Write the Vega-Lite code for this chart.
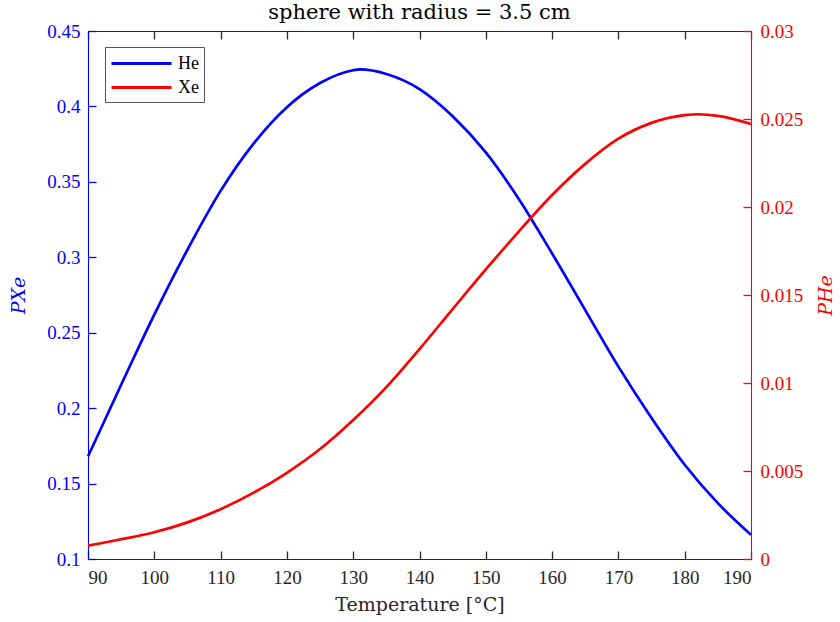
{
  "$schema": "https://vega.github.io/schema/vega-lite/v6.json",
  "autosize": {"type": "none"},
  "width": 663,
  "height": 528,
  "padding": {"left": 88, "top": 31, "right": 89, "bottom": 63},
  "background": "white",
  "title": {"text": "sphere with radius = 3.5 cm", "font": "DejaVu Serif", "fontSize": 21, "fontWeight": "normal", "color": "#000000", "offset": -1},
  "config": {
    "view": {"stroke": null},
    "axis": {"grid": false, "labelFont": "Liberation Serif", "labelFontSize": 19, "titleFont": "DejaVu Serif", "titleFontSize": 19, "titleFontWeight": "normal", "tickSize": -8, "tickWidth": 1.3, "domainWidth": 1.1}
  },
  "data": {"values": [
    {"T": 90, "s": "He", "v": 0.168},
    {"T": 95, "s": "He", "v": 0.2155},
    {"T": 100, "s": "He", "v": 0.262},
    {"T": 105, "s": "He", "v": 0.305},
    {"T": 110, "s": "He", "v": 0.344},
    {"T": 115, "s": "He", "v": 0.3755},
    {"T": 120, "s": "He", "v": 0.3995},
    {"T": 125, "s": "He", "v": 0.4155},
    {"T": 130, "s": "He", "v": 0.4240},
    {"T": 131, "s": "He", "v": 0.4245},
    {"T": 135, "s": "He", "v": 0.4215},
    {"T": 140, "s": "He", "v": 0.4115},
    {"T": 145, "s": "He", "v": 0.3935},
    {"T": 150, "s": "He", "v": 0.3695},
    {"T": 155, "s": "He", "v": 0.3385},
    {"T": 160, "s": "He", "v": 0.3025},
    {"T": 165, "s": "He", "v": 0.265},
    {"T": 170, "s": "He", "v": 0.2275},
    {"T": 175, "s": "He", "v": 0.1935},
    {"T": 180, "s": "He", "v": 0.1625},
    {"T": 185, "s": "He", "v": 0.137},
    {"T": 190, "s": "He", "v": 0.116},
    {"T": 90, "s": "Xe", "v": 0.00076},
    {"T": 95, "s": "Xe", "v": 0.00112},
    {"T": 100, "s": "Xe", "v": 0.00152},
    {"T": 105, "s": "Xe", "v": 0.00208},
    {"T": 110, "s": "Xe", "v": 0.00283},
    {"T": 115, "s": "Xe", "v": 0.00377},
    {"T": 120, "s": "Xe", "v": 0.00490},
    {"T": 125, "s": "Xe", "v": 0.00625},
    {"T": 130, "s": "Xe", "v": 0.00790},
    {"T": 135, "s": "Xe", "v": 0.00977},
    {"T": 140, "s": "Xe", "v": 0.01193},
    {"T": 145, "s": "Xe", "v": 0.01420},
    {"T": 150, "s": "Xe", "v": 0.01645},
    {"T": 155, "s": "Xe", "v": 0.01862},
    {"T": 160, "s": "Xe", "v": 0.02068},
    {"T": 165, "s": "Xe", "v": 0.02245},
    {"T": 170, "s": "Xe", "v": 0.02388},
    {"T": 175, "s": "Xe", "v": 0.02478},
    {"T": 180, "s": "Xe", "v": 0.02522},
    {"T": 182, "s": "Xe", "v": 0.02527},
    {"T": 185, "s": "Xe", "v": 0.02518},
    {"T": 190, "s": "Xe", "v": 0.02472}
  ]},
  "encoding": {
    "color": {
      "field": "s", "type": "nominal",
      "scale": {"domain": ["He", "Xe"], "range": ["#0000FF", "#FF0000"]},
      "legend": {"title": null, "orient": "none", "legendX": 17, "legendY": 16, "strokeColor": "#555555", "fillColor": "white", "padding": 5, "symbolType": "M-1,0H5", "symbolSize": 400, "symbolStrokeWidth": 3, "labelOffset": 45, "labelFont": "Liberation Serif", "labelFontSize": 18, "labelColor": "#000000", "rowPadding": 3}
    }
  },
  "layer": [
    {
      "transform": [{"filter": "datum.s == 'He'"}],
      "mark": {"type": "line", "strokeWidth": 2.7, "interpolate": "monotone"},
      "encoding": {
        "x": {"field": "T", "type": "quantitative", "scale": {"domain": [90, 190], "nice": false, "zero": false},
          "axis": {"orient": "bottom", "title": "Temperature [°C]", "values": [90,100,110,120,130,140,150,160,170,180,190], "format": "d", "domainColor": "#262626", "tickColor": "#262626", "labelColor": "#262626", "titleColor": "#262626", "labelPadding": 17, "titlePadding": 8}},
        "y": {"field": "v", "type": "quantitative", "scale": {"domain": [0.1, 0.45], "nice": false, "zero": false},
          "axis": {"orient": "left", "title": "PXe", "titleFontStyle": "italic", "values": [0.1,0.15,0.2,0.25,0.3,0.35,0.4,0.45], "format": ".2~f", "domainColor": "#0000FF", "tickColor": "#0000FF", "labelColor": "#0000FF", "titleColor": "#0000FF", "labelPadding": 16, "titlePadding": 18}}
      }
    },
    {
      "transform": [{"filter": "datum.s == 'Xe'"}],
      "mark": {"type": "line", "strokeWidth": 2.7, "interpolate": "monotone"},
      "encoding": {
        "x": {"field": "T", "type": "quantitative", "scale": {"domain": [90, 190], "nice": false, "zero": false},
          "axis": {"orient": "top", "title": null, "labels": false, "values": [90,100,110,120,130,140,150,160,170,180,190], "domainColor": "#262626", "tickColor": "#262626"}},
        "y": {"field": "v", "type": "quantitative", "scale": {"domain": [0, 0.03], "nice": false, "zero": false},
          "axis": {"orient": "right", "title": "PHe", "titleFontStyle": "italic", "titleAngle": 270, "titleBaseline": "top", "values": [0,0.005,0.01,0.015,0.02,0.025,0.03], "format": ".3~f", "domainColor": "#FF0000", "tickColor": "#FF0000", "labelColor": "#FF0000", "titleColor": "#FF0000", "labelPadding": 17, "titlePadding": 14}}
      }
    }
  ],
  "resolve": {"scale": {"y": "independent"}, "axis": {"x": "independent", "y": "independent"}}
}
